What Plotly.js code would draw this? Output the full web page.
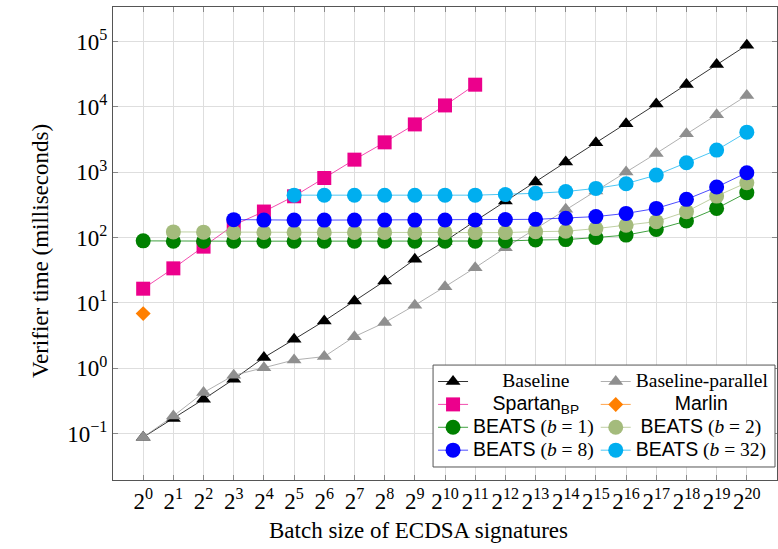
<!DOCTYPE html>
<html>
<head>
<meta charset="utf-8">
<script src="https://cdn.plot.ly/plotly-3.0.1.min.js"></script>
<style>html,body{margin:0;padding:0;background:#fff;}</style>
</head>
<body>
<div id="chart" style="width:778px;height:549px;"></div>
<script>
// Batch sizes (2^0 .. 2^20)
const batch = [1,2,4,8,16,32,64,128,256,512,1024,2048,4096,8192,16384,32768,65536,131072,262144,524288,1048576];
const batchLabels = ['2<sup>0</sup>','2<sup>1</sup>','2<sup>2</sup>','2<sup>3</sup>','2<sup>4</sup>','2<sup>5</sup>','2<sup>6</sup>','2<sup>7</sup>','2<sup>8</sup>','2<sup>9</sup>','2<sup>10</sup>','2<sup>11</sup>','2<sup>12</sup>','2<sup>13</sup>','2<sup>14</sup>','2<sup>15</sup>','2<sup>16</sup>','2<sup>17</sup>','2<sup>18</sup>','2<sup>19</sup>','2<sup>20</sup>'];
const yTickVals = [0.1,1,10,100,1000,10000,100000];
const yTickLabels = ['10<sup>\u22121</sup>','10<sup>0</sup>','10<sup>1</sup>','10<sup>2</sup>','10<sup>3</sup>','10<sup>4</sup>','10<sup>5</sup>'];

// Verifier time (ms)
const baseline    = [0.088,0.17,0.336,0.68,1.46,2.77,5.3,10.7,21.6,46.4,88,179,361,706,1427,2825,5510,11000,22000,44500,87800];
const baselinePar = [0.088,0.186,0.425,0.78,1.02,1.34,1.51,3.05,5.0,9.2,17.7,34.6,70,137,270,514,1004,1938,3880,7570,14900];
const spartan     = [16.5,33.8,72.6,155,250,428,815,1555,2860,5380,10500,21800];          // 2^0..2^11
const marlin      = [6.86];                                                              // 2^0
const beats1      = [89,88,88,88,88,88,88,88,88,88,88,88,88.5,91.6,93,100,109,133,179,279,486];   // 2^0..2^20
const beats2      = [122,121,120,120,120,120,120,120,120,120,119,119,123,125,137,154,175,249,431,691]; // 2^1..2^20
const beats8      = [188,185,185,185,185,185,185,186,186,189,190,197,209,234,279,384,592,982];         // 2^3..2^20
const beats32     = [445,443,443,443,443,445,445,455,475,505,565,667,903,1397,2177,4100];              // 2^5..2^20

const SERIF = 'Liberation Serif, Times New Roman, serif';
const SANS = 'Liberation Sans';

function lbl(pad, body) {
  return '<span style="font-size:19.5px">' + '\u00a0'.repeat(pad) + body + '</span>';
}
function sans(t) { return '<span style="font-family:' + SANS + '">' + t + '</span>'; }

function tr(name, x, y, color, lineColor, symbol, size, legend) {
  return {
    type: 'scatter', mode: 'lines+markers', name: name, x: x, y: y,
    legend: legend,
    line: {color: lineColor, width: 1},
    marker: {color: color, symbol: symbol, size: size, line: {width: 0}},
    hoverinfo: 'x+y+name'
  };
}

const traces = [
  tr(lbl(6, 'Baseline'), batch, baseline, '#000000', 'rgba(0,0,0,0.8)', 'triangle-up', 13, 'legend'),
  tr(lbl(0, 'Baseline-parallel'), batch, baselinePar, '#8f8f8f', 'rgba(150,150,150,0.75)', 'triangle-up', 13, 'legend2'),
  tr(lbl(4, sans('Spartan<sub>BP</sub>')), batch.slice(0, 12), spartan, '#ec008c', 'rgba(236,0,140,0.7)', 'square', 14, 'legend'),
  tr(lbl(8, sans('Marlin')), batch.slice(0, 1), marlin, '#ff7f00', 'rgba(255,127,0,0.7)', 'diamond', 11.5, 'legend2'),
  tr(lbl(0, sans('BEATS') + ' (<i>b</i> = 1)'), batch, beats1, '#008000', 'rgba(0,128,0,0.75)', 'circle', 15, 'legend'),
  tr(lbl(1, sans('BEATS') + ' (<i>b</i> = 2)'), batch.slice(1), beats2, '#a4bb7c', 'rgba(164,187,124,0.7)', 'circle', 15, 'legend2'),
  tr(lbl(0, sans('BEATS') + ' (<i>b</i> = 8)'), batch.slice(3), beats8, '#0000ff', 'rgba(0,0,255,0.7)', 'circle', 15, 'legend'),
  tr(lbl(0, sans('BEATS') + ' (<i>b</i> = 32)'), batch.slice(5), beats32, '#00aeef', 'rgba(0,174,239,0.7)', 'circle', 15, 'legend2')
];

const axisCommon = {
  type: 'log',
  showgrid: true, gridcolor: '#dedede', gridwidth: 1,
  showline: true, linecolor: '#555555', linewidth: 1, mirror: 'ticks',
  ticks: 'inside', ticklen: 5, tickcolor: '#888888', tickwidth: 1,
  zeroline: false,
  tickfont: {family: SERIF, size: 23, color: '#000'},
  tickmode: 'array'
};

const legendCommon = {
  bgcolor: 'rgba(0,0,0,0)', borderwidth: 0,
  font: {family: SERIF, size: 15.3, color: '#000'},
  xanchor: 'left', yanchor: 'top', itemclick: false, itemdoubleclick: false,
  tracegroupgap: 0, itemsizing: 'trace'
};

const layout = {
  width: 778, height: 549,
  margin: {l: 113, r: 1, t: 7, b: 69, pad: 0},
  paper_bgcolor: '#ffffff', plot_bgcolor: '#ffffff',
  showlegend: true,
  xaxis: Object.assign({}, axisCommon, {
    range: [Math.log10(0.5), Math.log10(2097152)],
    tickvals: batch, ticktext: batchLabels, tickangle: 0
  }),
  yaxis: Object.assign({}, axisCommon, {
    range: [-1.709, 5.527],
    tickvals: yTickVals, ticktext: yTickLabels
  }),
  annotations: [
    {text: 'Batch size of ECDSA signatures', xref: 'paper', yref: 'paper',
     x: 0.4608, y: -0.1078, xanchor: 'center', yanchor: 'middle', showarrow: false,
     font: {family: SERIF, size: 23, color: '#000'}},
    {text: 'Verifier time (milliseconds)', xref: 'paper', yref: 'paper',
     x: -0.1099, y: 0.484, xanchor: 'center', yanchor: 'middle', showarrow: false, textangle: -90,
     font: {family: SERIF, size: 23, color: '#000'}}
  ],
  legend: Object.assign({}, legendCommon, {x: 0.482, y: 0.243}),
  legend2: Object.assign({}, legendCommon, {x: 0.727, y: 0.243}),
  shapes: [{
    type: 'rect', xref: 'paper', yref: 'paper',
    x0: 0.482, x1: 0.997, y0: 0.0275, y1: 0.243,
    line: {color: '#555555', width: 1}, fillcolor: '#ffffff', layer: 'above'
  }]
};

Plotly.newPlot('chart', traces, layout, {displayModeBar: false, staticPlot: true});
</script>
</body>
</html>
